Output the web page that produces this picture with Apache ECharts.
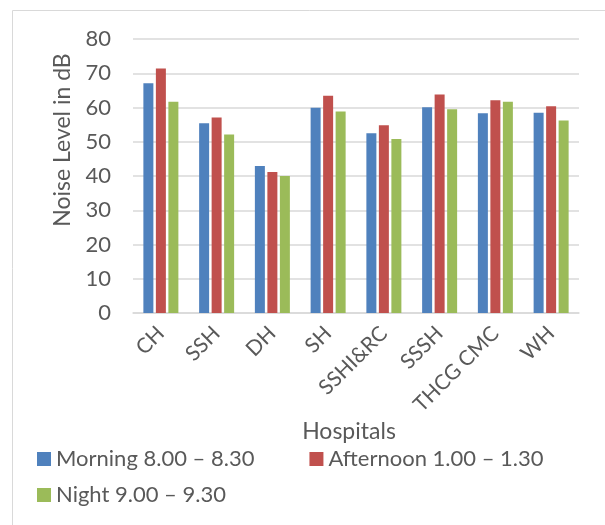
<!DOCTYPE html>
<html>
<head>
<meta charset="utf-8">
<script src="https://cdn.jsdelivr.net/npm/echarts@6/dist/echarts.min.js"></script>
<style>
  html, body { margin: 0; padding: 0; background: #ffffff; }
  #chart { width: 605px; height: 525px; }
</style>
</head>
<body>
<div id="chart"></div>
<script>
// Hospitals on the category axis
const hospitals = ['CH', 'SSH', 'DH', 'SH', 'SSHI&RC', 'SSSH', 'THCG CMC', 'WH'];

// Noise level (dB) recorded in each time slot
const morning   = [67.1, 55.4, 42.9, 59.9, 52.5, 60.1, 58.3, 58.5];
const afternoon = [71.4, 57.1, 41.2, 63.4, 54.8, 63.8, 62.1, 60.4];
const night     = [61.7, 52.1, 40.0, 58.8, 50.8, 59.5, 61.7, 56.2];

const seriesNames = ['Morning 8.00 \u2013 8.30', 'Afternoon 1.00 \u2013 1.30', 'Night 9.00 \u2013 9.30'];
const yTicks = { min: 0, max: 80, interval: 10 };

const FONT = 'Lato';
const TXT = '#595959';
const GRID = '#D9D9D9';
const colors = ['#4F81BD', '#C0504D', '#9BBB59'];

const chart = echarts.init(document.getElementById('chart'), null, { renderer: 'canvas' });

const legendText = { color: TXT, fontFamily: FONT, fontSize: 22 };

chart.setOption({
  animation: false,
  color: colors,
  grid: { left: 133, right: 26, top: 39, bottom: 212, containLabel: false },
  legend: [
    {
      data: [seriesNames[0], seriesNames[1]],
      left: 37, top: 448,
      icon: 'rect', itemWidth: 14, itemHeight: 14, itemGap: 55,
      textStyle: legendText, padding: 0
    },
    {
      data: [seriesNames[2]],
      left: 37, top: 484,
      icon: 'rect', itemWidth: 14, itemHeight: 14,
      textStyle: legendText, padding: 0
    }
  ],
  xAxis: {
    type: 'category',
    data: hospitals,
    axisLine: { show: true, lineStyle: { color: GRID, width: 1.5 } },
    axisTick: { show: false },
    axisLabel: { rotate: 45, color: TXT, fontFamily: FONT, fontSize: 21, margin: 17, interval: 0 }
  },
  yAxis: {
    type: 'value',
    min: yTicks.min, max: yTicks.max, interval: yTicks.interval,
    axisLine: { show: false },
    axisTick: { show: false },
    axisLabel: { color: TXT, fontFamily: FONT, fontSize: 22, margin: 22 },
    splitLine: { lineStyle: { color: GRID, width: 1.5 } }
  },
  series: [
    { name: seriesNames[0], type: 'bar', data: morning,   barWidth: 10, barGap: '25%' },
    { name: seriesNames[1], type: 'bar', data: afternoon, barWidth: 10, barGap: '25%' },
    { name: seriesNames[2], type: 'bar', data: night,     barWidth: 10, barGap: '25%' }
  ],
  graphic: [
    {
      type: 'rect', silent: true, z: -1,
      shape: { x: 12.5, y: 10.5, width: 700, height: 600 },
      style: { fill: 'none', stroke: '#D9D9D9', lineWidth: 1 }
    },
    {
      type: 'text', x: 63, y: 140, rotation: Math.PI / 2,
      style: {
        text: 'Noise Level in dB', fill: TXT, font: '23px ' + FONT,
        align: 'center', verticalAlign: 'middle'
      }
    },
    {
      type: 'text', x: 349, y: 432,
      style: {
        text: 'Hospitals', fill: TXT, font: '23px ' + FONT,
        align: 'center', verticalAlign: 'middle'
      }
    }
  ]
});
</script>
</body>
</html>
